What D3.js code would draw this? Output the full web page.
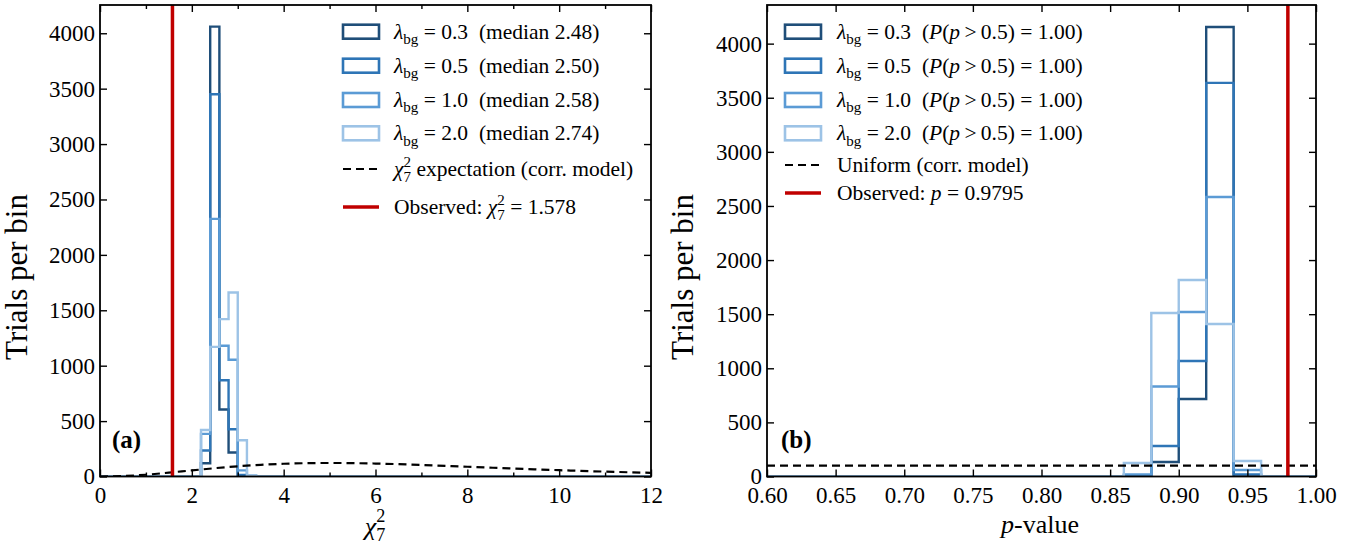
<!DOCTYPE html>
<html>
<head>
<meta charset="utf-8">
<script src="https://cdn.jsdelivr.net/npm/d3@7"></script>
<style>
  body { margin: 0; background: #fff; }
  text { font-family: "Liberation Serif", "Times New Roman", serif; fill: #000; }
</style>
</head>
<body>
<svg id="chart" width="1348" height="546"></svg>
<script>
// ---- data ----
const lambdas = ['0.3', '0.5', '1.0', '2.0'];
const medians = ['2.48', '2.50', '2.58', '2.74'];
const pAbove = ['1.00', '1.00', '1.00', '1.00'];
const colors = ['#1f4e79', '#2e75b6', '#5b9bd5', '#9dc3e6'];

// panel (a): chi2_7 histograms, bins of 0.2 (all other bins empty)
const chiBinLeft = [2.2, 2.4, 2.6, 2.8, 3.0, 3.2];
const chiBinWidth = 0.2;
const chiCounts = [
  [120, 4060, 604, 216, 5, 0],
  [235, 3450, 868, 427, 15, 0],
  [385, 2325, 1180, 1054, 55, 5],
  [420, 1170, 1420, 1660, 327, 12]
];
const chiExpX = [0, 0.5, 1, 1.5, 2, 2.5, 3, 3.5, 4, 5, 6, 7, 8, 9, 10, 11, 12];
const chiExpY = [0, 4, 16, 35, 55, 75, 92, 105, 115, 122, 117, 104, 88, 72, 57, 44, 33];
const chiObs = 1.578;
const chiXTicks = [0, 2, 4, 6, 8, 10, 12];
const chiXMinor = [1, 3, 5, 7, 9, 11];

// panel (b): p-value histograms, bins of 0.02
const pBinLeft = [0.86, 0.88, 0.90, 0.92, 0.94];
const pBinWidth = 0.02;
const pCounts = [
  [0, 134, 716, 4154, 0],
  [5, 282, 1067, 3637, 20],
  [20, 832, 1520, 2583, 60],
  [125, 1511, 1816, 1409, 143]
];
const pUniform = 100;
const pObs = 0.9795;
const pXTicks = [0.60, 0.65, 0.70, 0.75, 0.80, 0.85, 0.90, 0.95, 1.00];

const yTicks = [0, 500, 1000, 1500, 2000, 2500, 3000, 3500, 4000];

// ---- layout ----
const svg = d3.select('#chart');
const TOP = 5, BOT = 476.5;
const panels = [
  { x0: 100, x1: 651, xDom: [0, 12], yMax: 4255 },
  { x0: 767, x1: 1316, xDom: [0.6, 1.0], yMax: 4357 }
];
const LEG_FS = 21.5;

function rich(g, x, y, parts, size, anchor) {
  const t = g.append('text').attr('x', x).attr('y', y)
    .attr('font-size', size).attr('text-anchor', anchor || 'start')
    .style('white-space', 'pre');
  let prev = 0;
  parts.forEach(p => {
    const s = t.append('tspan').text(p.t);
    const shift = (p.shift || 0) * size;
    s.attr('dy', shift - prev);
    prev = shift;
    if (p.dx) s.attr('dx', p.dx * size);
    if (p.i) s.attr('font-style', 'italic');
    if (p.b) s.attr('font-weight', 'bold');
    if (p.s) s.attr('font-size', size * p.s);
  });
  return t;
}

function stepLine(x, y, lefts, w, counts, dom) {
  const pts = [[dom[0], 0], [lefts[0], 0]];
  counts.forEach((c, i) => {
    pts.push([lefts[i], c], [lefts[i] + w, c]);
  });
  pts.push([lefts[lefts.length - 1] + w, 0], [dom[1], 0]);
  return d3.line().x(d => x(d[0])).y(d => y(d[1]))(pts);
}

function drawPanel(P, idx) {
  const x = d3.scaleLinear().domain(P.xDom).range([P.x0, P.x1]);
  const y = d3.scaleLinear().domain([0, P.yMax]).range([BOT, TOP]);
  const g = svg.append('g');
  const clipId = 'clip' + idx;
  svg.append('clipPath').attr('id', clipId).append('rect')
    .attr('x', P.x0).attr('y', TOP).attr('width', P.x1 - P.x0).attr('height', BOT - TOP);
  const plot = g.append('g').attr('clip-path', `url(#${clipId})`);
  return { x, y, g, plot };
}

function axes(A, P, xticks, xminor, fmt) {
  const { x, y, g } = A;
  const ax = (sel) => { sel.select('.domain').remove(); sel.selectAll('line').attr('stroke', '#000').attr('stroke-width', 1.4); };
  g.append('g').attr('transform', `translate(0,${BOT})`)
    .call(d3.axisBottom(x).tickValues(xticks).tickSize(-7).tickPadding(10).tickFormat(fmt))
    .call(ax).selectAll('text').attr('font-size', 23).attr('font-family', '"Liberation Serif", serif');
  g.append('g').attr('transform', `translate(0,${TOP})`)
    .call(d3.axisTop(x).tickValues(xticks).tickSize(-7).tickFormat('')).call(ax);
  if (xminor) {
    g.append('g').attr('transform', `translate(0,${BOT})`)
      .call(d3.axisBottom(x).tickValues(xminor).tickSize(-4).tickFormat('')).call(ax);
    g.append('g').attr('transform', `translate(0,${TOP})`)
      .call(d3.axisTop(x).tickValues(xminor).tickSize(-4).tickFormat('')).call(ax);
  }
  g.append('g').attr('transform', `translate(${P.x0},0)`)
    .call(d3.axisLeft(y).tickValues(yTicks).tickSize(-7).tickPadding(5).tickFormat(d3.format('d')))
    .call(ax).selectAll('text').attr('font-size', 23).attr('font-family', '"Liberation Serif", serif');
  g.append('g').attr('transform', `translate(${P.x1},0)`)
    .call(d3.axisRight(y).tickValues(yTicks).tickSize(-7).tickFormat('')).call(ax);
  g.append('rect').attr('x', P.x0).attr('y', TOP).attr('width', P.x1 - P.x0).attr('height', BOT - TOP)
    .attr('fill', 'none').attr('stroke', '#000').attr('stroke-width', 1.8);
}

function lamParts(i) {
  return [{ t: 'λ', i: true }, { t: 'bg', s: 0.7, shift: 0.25 }, { t: ' = ' + lambdas[i] + '  ' }];
}

function legend(g, px, tx, rows) {
  rows.forEach(r => {
    if (r.kind === 'patch') {
      g.append('rect').attr('x', px).attr('y', r.y - 7).attr('width', 36).attr('height', 14)
        .attr('fill', 'none').attr('stroke', r.color).attr('stroke-width', 2.6);
    } else {
      g.append('line').attr('x1', px).attr('x2', px + 36).attr('y1', r.y).attr('y2', r.y)
        .attr('stroke', r.color).attr('stroke-width', r.dash ? 2.2 : 3.5)
        .attr('stroke-dasharray', r.dash ? '8,5' : null);
    }
    rich(g, tx, r.y + 7, r.parts, LEG_FS);
  });
}

// ---- panel (a) ----
const A = drawPanel(panels[0], 0);
chiCounts.forEach((c, i) => {
  A.plot.append('path').attr('d', stepLine(A.x, A.y, chiBinLeft, chiBinWidth, c, panels[0].xDom))
    .attr('fill', 'none').attr('stroke', colors[i]).attr('stroke-width', 2.4);
});
A.plot.append('path')
  .attr('d', d3.line().curve(d3.curveMonotoneX).x(d => A.x(d[0])).y(d => A.y(d[1]))(chiExpX.map((v, i) => [v, chiExpY[i]])))
  .attr('fill', 'none').attr('stroke', '#000').attr('stroke-width', 2.2).attr('stroke-dasharray', '8,5');
A.plot.append('line').attr('x1', A.x(chiObs)).attr('x2', A.x(chiObs)).attr('y1', TOP).attr('y2', BOT)
  .attr('stroke', '#c00000').attr('stroke-width', 3.5);
axes(A, panels[0], chiXTicks, chiXMinor, d3.format('d'));

const legA = [0, 1, 2, 3].map(i => ({ kind: 'patch', color: colors[i], y: [31.7, 65.7, 100, 133.3][i],
  parts: lamParts(i).concat([{ t: '(median ' + medians[i] + ')' }]) }));
legA.push({ kind: 'line', color: '#000', dash: true, y: 169,
  parts: [{ t: 'χ', i: true }, { t: '2', s: 0.7, shift: -0.42 }, { t: '7', s: 0.7, shift: 0.3, dx: -0.35 }, { t: ' expectation (corr. model)' }] });
legA.push({ kind: 'line', color: '#c00000', y: 207,
  parts: [{ t: 'Observed: ' }, { t: 'χ', i: true }, { t: '2', s: 0.7, shift: -0.42 }, { t: '7', s: 0.7, shift: 0.3, dx: -0.35 }, { t: ' = ' + chiObs }] });
legend(A.g, 343, 394, legA);

rich(A.g, 112, 448, [{ t: '(a)', b: true }], 25);
rich(A.g, 27, 277, [{ t: 'Trials per bin' }], 31, 'middle').attr('transform', 'rotate(-90,27,277)').attr('dy', '0.35em');
rich(A.g, 375, 535, [{ t: 'χ', i: true }, { t: '2', s: 0.7, shift: -0.5 }, { t: '7', s: 0.7, shift: 0.22, dx: -0.35 }], 26, 'middle');

// ---- panel (b) ----
const B = drawPanel(panels[1], 1);
pCounts.forEach((c, i) => {
  B.plot.append('path').attr('d', stepLine(B.x, B.y, pBinLeft, pBinWidth, c, [0, 1.0]))
    .attr('fill', 'none').attr('stroke', colors[i]).attr('stroke-width', 2.4);
});
B.plot.append('line').attr('x1', B.x(0.6)).attr('x2', B.x(1.0)).attr('y1', B.y(pUniform)).attr('y2', B.y(pUniform))
  .attr('stroke', '#000').attr('stroke-width', 2.2).attr('stroke-dasharray', '8,5');
B.plot.append('line').attr('x1', B.x(pObs)).attr('x2', B.x(pObs)).attr('y1', TOP).attr('y2', BOT)
  .attr('stroke', '#c00000').attr('stroke-width', 3.5);
axes(B, panels[1], pXTicks, null, d3.format('.2f'));

const legB = [0, 1, 2, 3].map(i => ({ kind: 'patch', color: colors[i], y: [31.7, 65.7, 100, 133.3][i],
  parts: lamParts(i).concat([{ t: '(' }, { t: 'P', i: true }, { t: '(' }, { t: 'p', i: true }, { t: '\u2009>\u20090.5) = ' + pAbove[i] + ')' }]) }));
legB.push({ kind: 'line', color: '#000', dash: true, y: 165, parts: [{ t: 'Uniform (corr. model)' }] });
legB.push({ kind: 'line', color: '#c00000', y: 193, parts: [{ t: 'Observed: ' }, { t: 'p', i: true }, { t: ' = ' + pObs }] });
legend(B.g, 785, 837, legB);

rich(B.g, 781, 448, [{ t: '(b)', b: true }], 25);
rich(B.g, 693, 277, [{ t: 'Trials per bin' }], 31, 'middle').attr('transform', 'rotate(-90,693,277)').attr('dy', '0.35em');
rich(B.g, 1040, 533, [{ t: 'p', i: true }, { t: '-value' }], 26, 'middle');
</script>
</body>
</html>
